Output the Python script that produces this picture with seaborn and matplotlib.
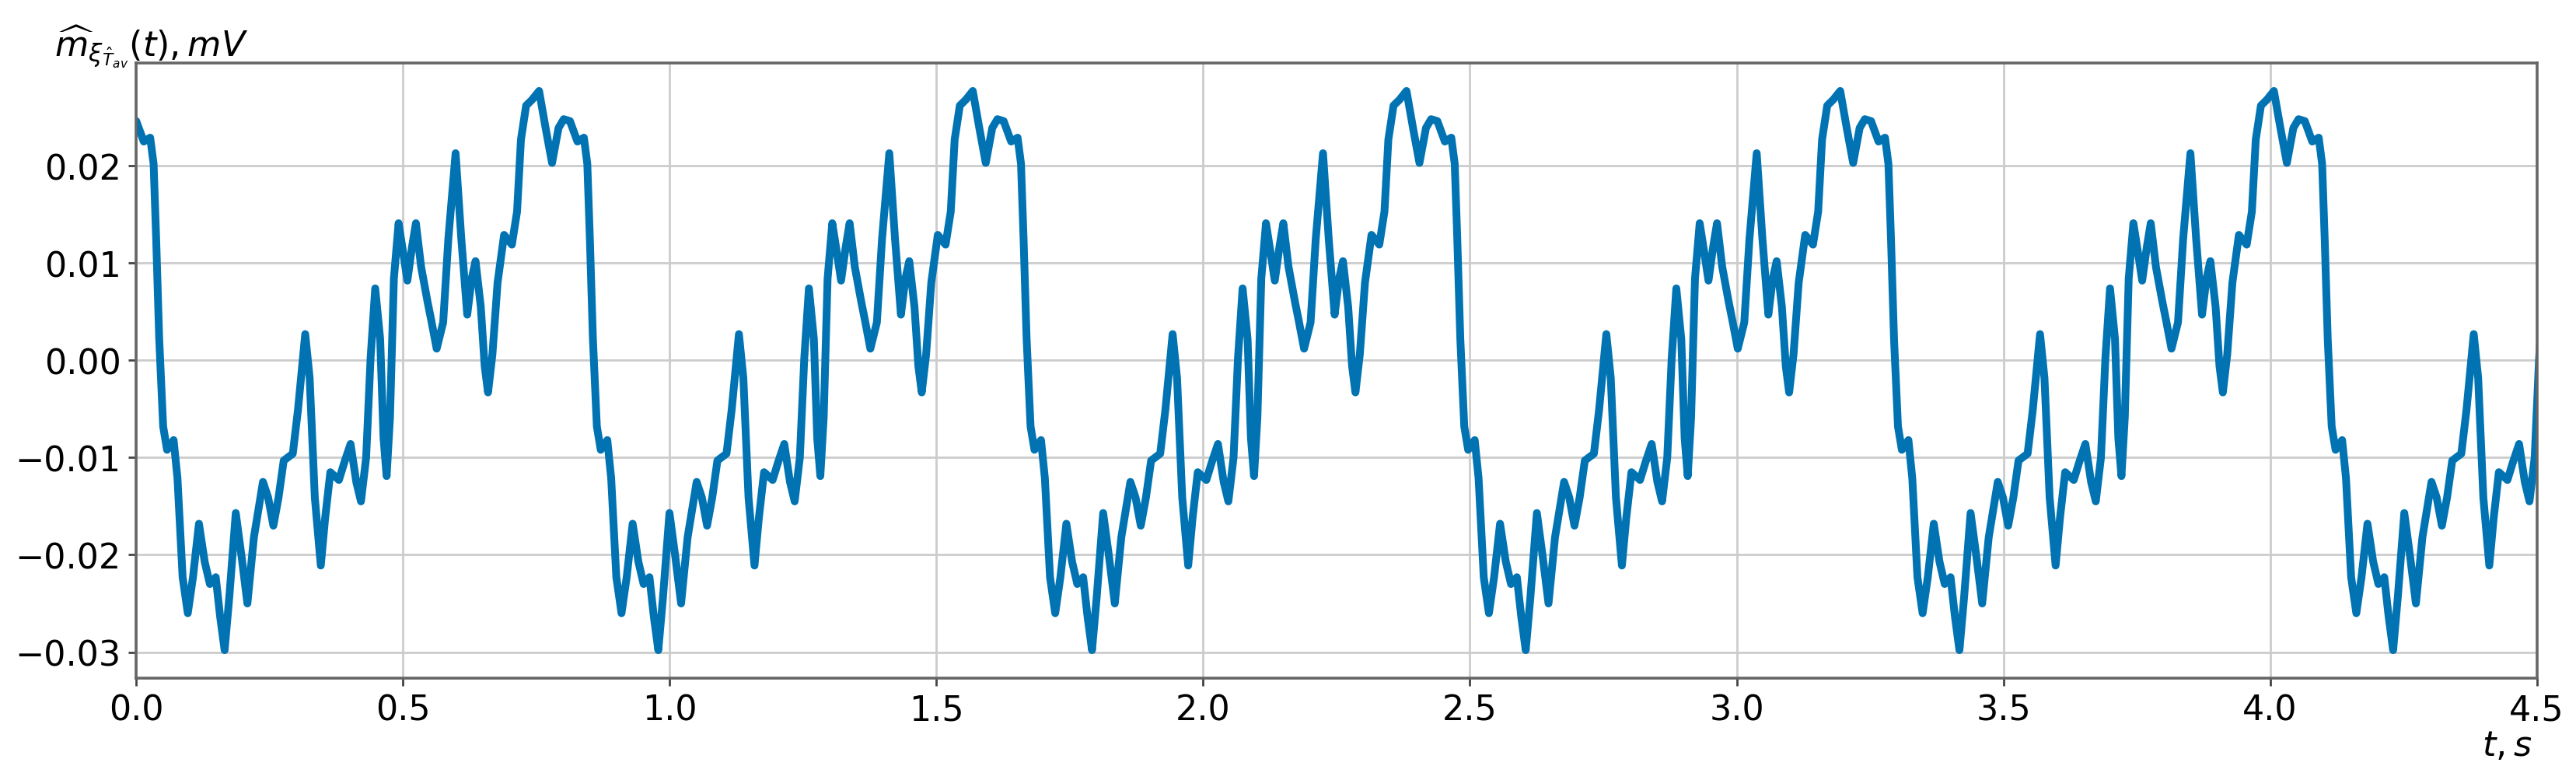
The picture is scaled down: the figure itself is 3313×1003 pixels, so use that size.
import numpy as np
import pandas as pd
import matplotlib
matplotlib.use("Agg")
import matplotlib.pyplot as plt
import seaborn as sns

# One period of the estimated mean (t in s, value in mV)
t_period = [0.000, 0.014, 0.0261, 0.0325, 0.0373, 0.043, 0.0504, 0.0577,
            0.070, 0.0772, 0.0869, 0.0966, 0.1063, 0.1175, 0.1282, 0.138,
            0.149, 0.1573, 0.1656, 0.1743, 0.1865, 0.1977, 0.2083, 0.2205,
            0.2375, 0.2472, 0.257, 0.2667, 0.2764, 0.2934, 0.3031, 0.3167,
            0.325, 0.3347, 0.3459, 0.3541, 0.3638, 0.3799, 0.3906, 0.4017,
            0.4124, 0.4212, 0.4309, 0.4392, 0.4479, 0.4572, 0.4635, 0.4693,
            0.4756, 0.4829, 0.4917, 0.500, 0.5082, 0.517, 0.5242, 0.534,
            0.5461, 0.5534, 0.5631, 0.5753, 0.585, 0.5986, 0.6093, 0.6204,
            0.6287, 0.636, 0.6458, 0.6531, 0.6594, 0.6676, 0.6773, 0.6895,
            0.7041, 0.7138, 0.7211, 0.7308, 0.742, 0.7551, 0.7673, 0.7794,
            0.7916, 0.8013]
m_period = [24.6, 22.5, 22.9, 20.2, 12.5, 2.2, -6.8, -9.2,
            -8.2, -12.1, -22.3, -26.0, -22.3, -16.8, -20.7, -23.0,
            -22.3, -26.4, -29.8, -24.4, -15.7, -20.3, -25.0, -18.2,
            -12.5, -14.1, -17.0, -14.1, -10.3, -9.6, -5.1, 2.7,
            -1.8, -14.1, -21.1, -16.2, -11.5, -12.3, -10.4, -8.6,
            -12.5, -14.5, -10.0, 0.2, 7.4, 2.2, -8.0, -11.9,
            -5.9, 8.4, 14.1, 11.2, 8.2, 11.7, 14.1, 9.6,
            6.0, 4.0, 1.2, 3.9, 12.5, 21.3, 12.5, 4.7,
            8.4, 10.2, 5.5, -0.6, -3.3, 0.6, 8.0, 12.9,
            11.9, 15.3, 22.7, 26.2, 26.8, 27.7, 23.9, 20.3,
            23.9, 24.8]  # in units of 1e-3 mV

period = 0.813       # repetition period seen in the plot, s
n_periods = 6
x_ticks = [0.0, 0.5, 1.0, 1.5, 2.0, 2.5, 3.0, 3.5, 4.0, 4.5]
y_ticks = [-0.03, -0.02, -0.01, 0.00, 0.01, 0.02]

t = np.concatenate([np.array(t_period) + k * period for k in range(n_periods)])
m = np.tile(np.array(m_period) * 1e-3, n_periods)
df = pd.DataFrame({"t": t, "m": m})

sns.set_theme(style="whitegrid")
plt.rcParams.update({
    "font.family": ["DejaVu Sans"],
    "text.color": "black",
    "axes.labelcolor": "black",
    "axes.edgecolor": "#666666",
    "axes.linewidth": 1.3,
    "grid.color": "#cccccc",
    "grid.linewidth": 1.0,
    "xtick.bottom": True,
    "ytick.left": True,
    "xtick.major.size": 3.5,
    "ytick.major.size": 3.5,
    "xtick.major.width": 1.0,
    "ytick.major.width": 1.0,
    "xtick.color": "#444444",
    "ytick.color": "#444444",
    "xtick.labelcolor": "black",
    "ytick.labelcolor": "black",
    "xtick.labelsize": 16,
    "ytick.labelsize": 16,
})

fig = plt.figure(figsize=(16.565, 5.02), dpi=200)
ax = fig.add_axes([0.0529, 0.1305, 0.9319, 0.7878])

sns.lineplot(data=df, x="t", y="m", ax=ax, estimator=None, sort=False,
             color=sns.color_palette("colorblind")[0], linewidth=3.6)

ax.set_xlim(0, 4.5)
ax.set_xticks(x_ticks)
ax.set_yticks(y_ticks)

ax.set_ylabel(r"$\widehat{m}_{\xi_{\hat{T}_{av}}}(t), mV$", fontsize=16,
              rotation=0, ha="left", va="baseline")
ax.yaxis.set_label_coords(-0.034, 1.013)
ax.set_xlabel(r"$t, s$", fontsize=16, ha="right", va="center")
ax.xaxis.set_label_coords(0.998, -0.11)

fig.savefig("out.png", dpi=200)
